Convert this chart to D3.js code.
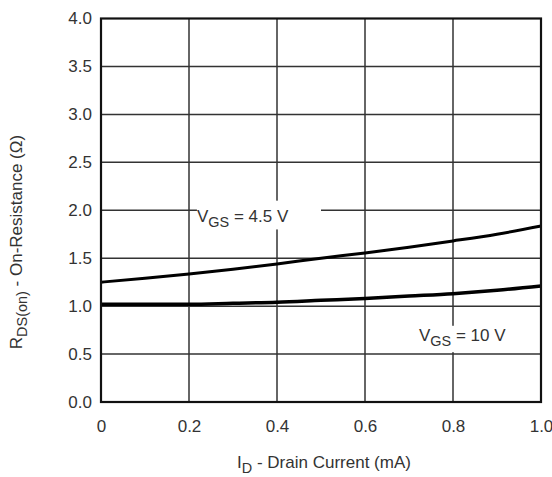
<!DOCTYPE html>
<html>
<head>
<meta charset="utf-8">
<script src="https://cdn.jsdelivr.net/npm/d3@7"></script>
<style>
  body { margin: 0; background: #fff; }
  text { font-family: "Liberation Sans", Arial, sans-serif; fill: #333; }
</style>
</head>
<body>
<div id="chart"></div>
<script>
const WIDTH = 552
const HEIGHT = 477
const MARGIN = { top: 18.5, right: 11, bottom: 75, left: 101 }

const X_TICKS = [0, 0.2, 0.4, 0.6, 0.8, 1.0]
const X_TICK_LABELS = ['0', '0.2', '0.4', '0.6', '0.8', '1.0']
const Y_TICKS = [0, 0.5, 1.0, 1.5, 2.0, 2.5, 3.0, 3.5, 4.0]

// drain current (mA)
const ID = [0, 0.1, 0.2, 0.3, 0.4, 0.5, 0.6, 0.7, 0.8, 0.9, 1.0]
// on-resistance (ohm)
const VGS_4V5 = [1.25, 1.29, 1.335, 1.385, 1.44, 1.50, 1.555, 1.615, 1.68, 1.75, 1.835]
const VGS_10V = [1.02, 1.02, 1.02, 1.03, 1.04, 1.06, 1.08, 1.105, 1.13, 1.165, 1.21]

const SERIES = [
  { name: 'VGS = 4.5 V', values: VGS_4V5 },
  { name: 'VGS = 10 V', values: VGS_10V }
]

let svg = d3.select('#chart')
  .append('svg')
    .attr('width', WIDTH)
    .attr('height', HEIGHT)

let x = d3.scaleLinear()
  .domain([0, 1])
  .range([MARGIN.left, WIDTH - MARGIN.right])

let y = d3.scaleLinear()
  .domain([0, 4])
  .range([HEIGHT - MARGIN.bottom, MARGIN.top])

// grid
let grid = svg.append('g').attr('class', 'grid')

grid.selectAll('.vline')
  .data(X_TICKS.slice(1, -1))
  .enter().append('line')
    .attr('x1', (d) => x(d)).attr('x2', (d) => x(d))
    .attr('y1', y(0)).attr('y2', y(4))
    .attr('stroke', '#333').attr('stroke-width', 1.5)

grid.selectAll('.hline')
  .data(Y_TICKS.slice(1, -1))
  .enter().append('line')
    .attr('x1', x(0)).attr('x2', x(1))
    .attr('y1', (d) => y(d)).attr('y2', (d) => y(d))
    .attr('stroke', '#333').attr('stroke-width', 1.5)

// label backgrounds that hide the grid
svg.append('rect')
  .attr('x', x(0.218)).attr('y', y(2.1))
  .attr('width', x(0.5) - x(0.218)).attr('height', y(1.8) - y(2.1))
  .attr('fill', '#fff')

svg.append('rect')
  .attr('x', x(0.715)).attr('y', y(0.795))
  .attr('width', x(0.93) - x(0.715)).attr('height', y(0.52) - y(0.795))
  .attr('fill', '#fff')

// curves
let line = d3.line()
  .x((d, i) => x(ID[i]))
  .y((d) => y(d))
  .curve(d3.curveMonotoneX)

svg.selectAll('.curve')
  .data(SERIES)
  .enter().append('path')
    .attr('class', 'curve')
    .attr('d', (d) => line(d.values))
    .attr('fill', 'none')
    .attr('stroke', '#000')
    .attr('stroke-width', (d, i) => i === 0 ? 3 : 3.5)

// frame
svg.append('rect')
  .attr('x', x(0)).attr('y', y(4))
  .attr('width', x(1) - x(0)).attr('height', y(0) - y(4))
  .attr('fill', 'none')
  .attr('stroke', '#111')
  .attr('stroke-width', 2.2)

// axes (labels only)
let xAxis = d3.axisBottom(x)
  .tickValues(X_TICKS)
  .tickFormat((d, i) => X_TICK_LABELS[i])
  .tickSize(0)
  .tickPadding(18)

let yAxis = d3.axisLeft(y)
  .tickValues(Y_TICKS)
  .tickFormat(d3.format('.1f'))
  .tickSize(0)
  .tickPadding(9)

svg.append('g')
  .attr('transform', 'translate(0,' + y(0) + ')')
  .call(xAxis)
  .call((g) => g.select('.domain').remove())
  .selectAll('text')
    .attr('font-size', 17)
    .attr('fill', '#333')

svg.append('g')
  .attr('transform', 'translate(' + x(0) + ',0)')
  .call(yAxis)
  .call((g) => g.select('.domain').remove())
  .selectAll('text')
    .attr('font-size', 17)
    .attr('fill', '#333')

// text with subscripts
function subText(sel, parts) {
  parts.forEach((p) => {
    let t = sel.append('tspan').text(p.t)
    if (p.sub) t.attr('dy', 4.5).attr('font-size', '0.85em')
    if (p.after) t.attr('dy', -4.5)
  })
}

let xTitle = svg.append('text')
  .attr('x', (x(0) + x(1)) / 2 + 3)
  .attr('y', 468)
  .attr('text-anchor', 'middle')
  .attr('font-size', 17)
subText(xTitle, [{ t: 'I' }, { t: 'D', sub: true }, { t: ' - Drain Current (mA)', after: true }])

let yTitle = svg.append('text')
  .attr('transform', 'translate(22,242) rotate(-90)')
  .attr('text-anchor', 'middle')
  .attr('font-size', 17)
subText(yTitle, [{ t: 'R' }, { t: 'DS(on)', sub: true }, { t: ' - On-Resistance (Ω)', after: true }])

let l1 = svg.append('text')
  .attr('x', 197).attr('y', 222)
  .attr('font-size', 17)
subText(l1, [{ t: 'V' }, { t: 'GS', sub: true }, { t: ' = 4.5 V', after: true }])

let l2 = svg.append('text')
  .attr('x', 419).attr('y', 341)
  .attr('font-size', 17)
subText(l2, [{ t: 'V' }, { t: 'GS', sub: true }, { t: ' = 10 V', after: true }])
</script>
</body>
</html>
